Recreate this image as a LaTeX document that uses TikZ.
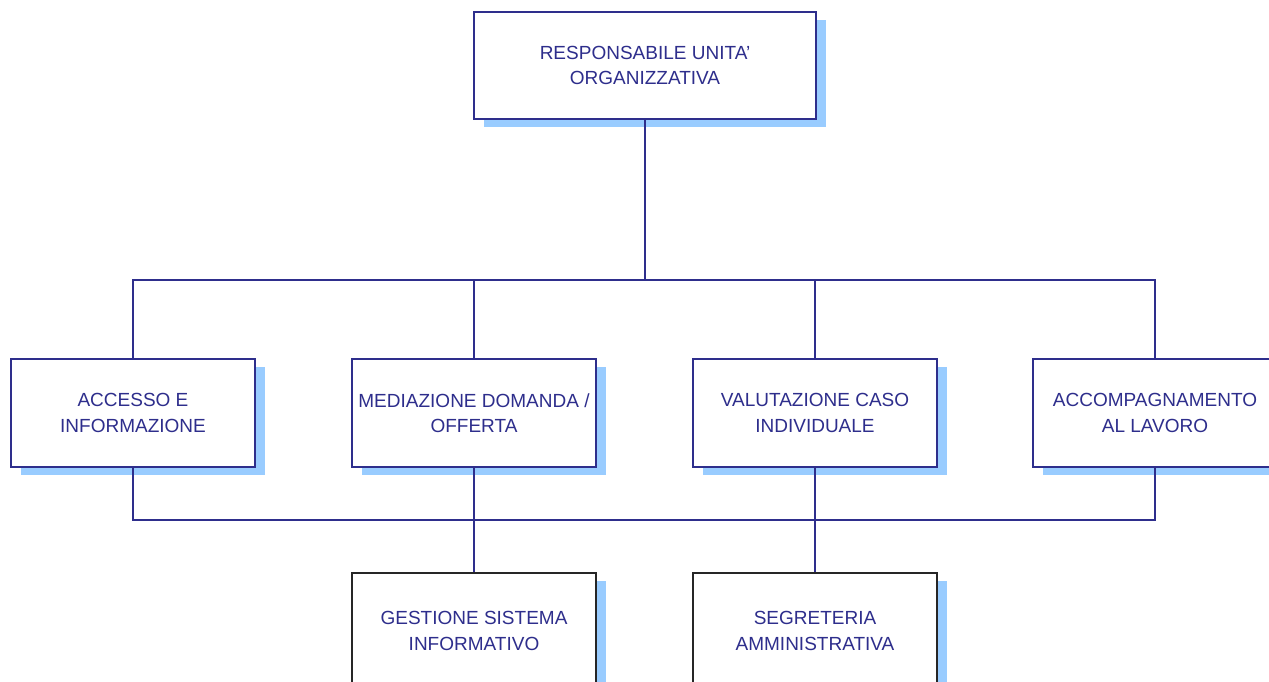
\documentclass[tikz,border=0pt]{standalone}
\usepackage{fontspec}
\setmainfont{Liberation Sans}
\usetikzlibrary{shadows}
\definecolor{navy}{RGB}{46,46,140}
\definecolor{shade}{RGB}{153,204,255}
\begin{document}
\begin{tikzpicture}[x=1pt,y=-1pt,line width=1.5pt,draw=navy]
  \tikzstyle{block}=[draw=navy,fill=white,rectangle,inner sep=2mm,align=center,text=navy,
    font=\fontsize{19}{25.5}\selectfont,minimum width=244pt,minimum height=108pt,
    drop shadow={shadow xshift=10pt,shadow yshift=-8pt,fill=shade,opacity=1}]
  \def\dy{160}	% drop from head to upper bus
  \def\dz{52}	% drop from row to lower bus
  \useasboundingbox (0,0) rectangle (1269,681);
  \node[block,minimum width=342pt,minimum height=107pt] (resp) at (645,65.5) {RESPONSABILE UNITA'\\ORGANIZZATIVA};
  \node[block] (acc) at (133,413) {ACCESSO E\\INFORMAZIONE};
  \node[block] (med) at (474,413) {MEDIAZIONE DOMANDA /\\OFFERTA};
  \node[block] (val) at (815,413) {VALUTAZIONE CASO\\INDIVIDUALE};
  \node[block] (acp) at (1155,413) {ACCOMPAGNAMENTO\\AL LAVORO};
  \node[block,draw=black!85,minimum height=116pt] (gest) at (474,631) {GESTIONE SISTEMA\\INFORMATIVO};
  \node[block,draw=black!85,minimum height=116pt] (segr) at (815,631) {SEGRETERIA\\AMMINISTRATIVA};
  \foreach \n in {acc,med,val,acp}
    \draw[navy] (resp.south) -- ++(0,\dy) -| (\n.north);
  \draw[navy] (acc.south) -- ++(0,\dz) -| (acp.south);
  \draw[navy] (med.south) -- (gest.north);
  \draw[navy] (val.south) -- (segr.north);
\end{tikzpicture}
\end{document}
